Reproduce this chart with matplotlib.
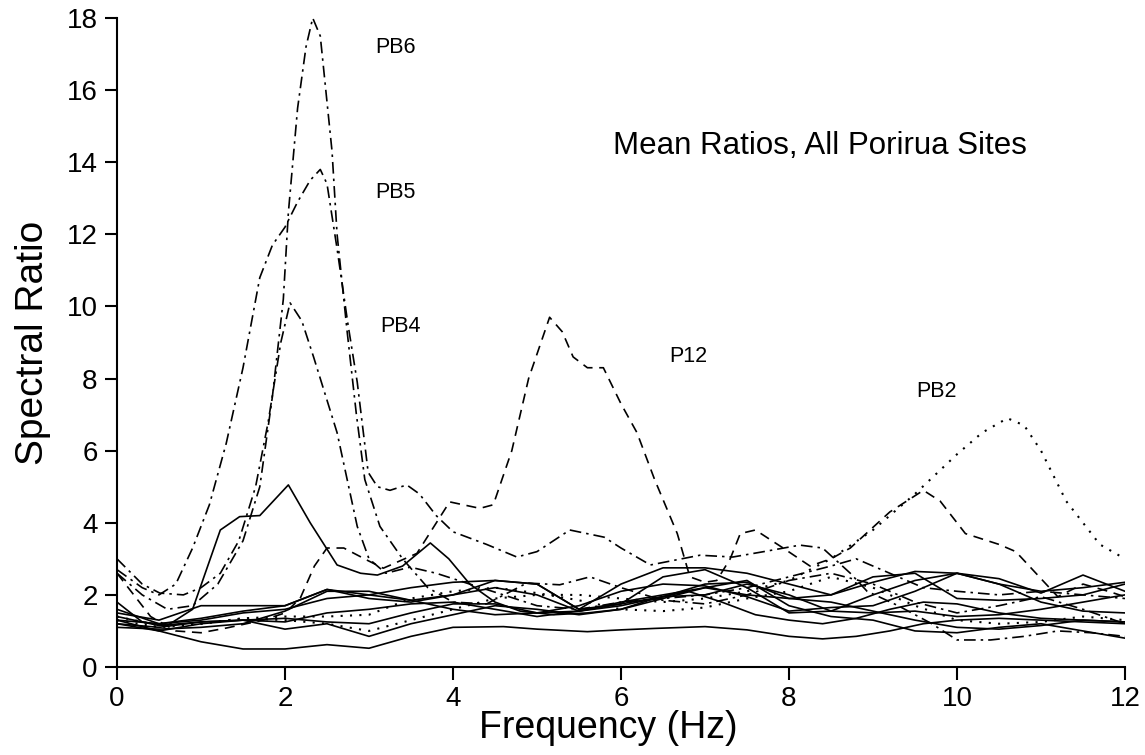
#! /usr/bin/env python3

import numpy as np
from matplotlib import pyplot as plt
import matplotlib as mpl

mpl.rcParams['font.family'] = ['Liberation Sans', 'DejaVu Sans']

# --- data: (frequency Hz, spectral ratio) ---
pb6_f = [0, 0.3, 0.6, 0.9, 1.2, 1.5, 1.7, 1.85, 1.98, 2.04, 2.15, 2.25, 2.33, 2.42, 2.56, 2.62, 2.74,
         2.85, 2.95, 3.13, 3.4, 3.7, 4.0, 4.4, 4.88, 5.27, 5.63, 6.0, 6.5, 7.0, 7.5, 8.0, 8.5, 9.0,
         9.5, 10.0, 10.5, 11.0, 11.5, 12.0]
pb6_r = [2.6, 2.0, 1.6, 1.7, 2.3, 3.5, 5.0, 7.5, 10.2, 12.6, 15.5, 17.2, 18.0, 17.5, 14.3, 12.0, 9.3,
         7.0, 5.2, 3.9, 3.0, 2.2, 1.8, 1.75, 2.33, 2.28, 2.5, 2.2, 1.85, 1.75, 2.0, 2.4, 2.6, 2.3,
         1.8, 1.5, 1.7, 1.95, 1.6, 1.2]

pb5_f = [0, 0.3, 0.5, 0.7, 0.9, 1.1, 1.3, 1.5, 1.7, 1.85, 2.0, 2.15, 2.3, 2.42, 2.5, 2.62, 2.75, 2.86,
         2.99, 3.1, 3.25, 3.45, 3.6, 3.8, 4.0, 4.4, 4.76, 5.0, 5.39, 5.8, 6.0, 6.35, 6.94, 7.33, 7.7,
         8.13, 8.4, 8.73, 8.93, 9.3, 9.7, 10.0, 10.4, 10.8, 11.2, 11.6, 12.0]
pb5_r = [2.7, 2.2, 2.0, 2.3, 3.3, 4.5, 6.2, 8.3, 10.8, 11.7, 12.2, 12.9, 13.5, 13.8, 13.4, 11.6, 9.5, 7.9,
         5.4, 5.0, 4.9, 5.05, 4.8, 4.2, 3.75, 3.4, 3.05, 3.2, 3.8, 3.6, 3.3, 2.83, 3.1, 3.05, 3.2,
         3.38, 3.3, 2.6, 2.1, 1.7, 1.2, 0.75, 0.75, 0.85, 1.0, 0.95, 0.85]

pb4_f = [0, 0.3, 0.51, 0.79, 1.0, 1.23, 1.45, 1.65, 1.8, 1.95, 2.06, 2.2, 2.34, 2.62, 2.86, 3.0, 3.2,
         3.49, 3.8, 4.2, 4.6, 5.0, 5.5, 6.0, 6.5, 7.0, 7.5, 8.0, 8.5, 8.8, 9.2, 9.6, 10.0, 10.5, 11.0,
         11.5, 12.0]
pb4_r = [3.0, 2.3, 2.05, 2.0, 2.2, 2.6, 3.5, 5.0, 6.8, 9.0, 10.1, 9.6, 8.6, 6.5, 3.9, 3.0, 2.6,
         2.77, 2.6, 2.3, 2.0, 1.7, 1.6, 1.8, 1.9, 2.0, 2.2, 2.5, 2.8, 3.0, 2.6, 2.2, 2.1, 2.0, 2.1,
         2.0, 1.9]

p12_f = [0, 0.2, 0.4, 0.7, 1.0, 1.3, 1.74, 2.0, 2.18, 2.35, 2.5, 2.7, 2.98, 3.17, 3.57, 3.96, 4.32,
         4.48, 4.7, 4.9, 5.15, 5.3, 5.43, 5.6, 5.79, 6.0, 6.19, 6.4, 6.67, 6.82, 7.0, 7.14, 7.3, 7.42,
         7.6, 7.93, 8.25, 8.5, 8.73, 9.2, 9.6, 9.8, 10.1, 10.5, 10.7, 10.9, 11.2, 11.5, 11.8, 12.0]
p12_r = [2.6, 2.0, 1.4, 1.0, 0.95, 1.08, 1.3, 1.5, 1.9, 2.8, 3.3, 3.3, 2.96, 2.74, 3.15, 4.58, 4.4,
         4.5, 6.0, 8.0, 9.7, 9.3, 8.6, 8.3, 8.3, 7.3, 6.5, 5.2, 3.7, 2.5, 2.35, 2.4, 3.0, 3.7,
         3.8, 3.3, 2.8, 3.0, 3.3, 4.3, 4.9, 4.6, 3.7, 3.4, 3.2, 2.7, 1.95, 2.3, 2.1, 1.95]

pb2_f = [0, 0.5, 1.0, 1.5, 2.0, 2.5, 3.0, 3.5, 4.0, 4.5, 5.0, 5.5, 6.0, 6.5, 7.0, 7.5, 8.0, 8.5,
         9.0, 9.5, 10.0, 10.3, 10.6, 10.8, 11.0, 11.3, 11.7, 12.0]
pb2_r = [1.3, 1.1, 1.2, 1.35, 1.3, 1.2, 1.0, 1.3, 1.6, 1.9, 2.0, 2.0, 1.9, 1.8, 1.9, 2.1, 2.4, 3.0,
         3.8, 4.8, 5.9, 6.5, 6.9, 6.7, 6.0, 4.6, 3.4, 3.0]

# second dotted site
dot2_f = [0, 0.5, 1.0, 1.5, 2.0, 2.5, 3.0, 3.5, 4.0, 4.5, 5.0, 5.5, 6.0, 6.5, 7.0, 7.5, 8.0, 8.5,
          9.0, 9.5, 10.0, 10.5, 11.0, 11.5, 12.0]
dot2_r = [1.4, 1.15, 1.2, 1.35, 1.4, 1.4, 1.45, 1.9, 2.1, 2.2, 2.05, 1.85, 1.6, 1.55, 1.65, 1.9, 2.1,
          2.5, 2.2, 1.7, 1.3, 1.2, 1.25, 1.4, 1.3]

# solid-line sites
s1_f = [0, 0.3, 0.6, 0.9, 1.23, 1.46, 1.7, 2.04, 2.3, 2.62, 2.9, 3.1, 3.4, 3.73, 3.95, 4.2, 4.5, 4.8,
        5.2, 5.6, 6.0, 6.4, 6.8, 7.2, 7.6, 8.0, 8.4, 8.8, 9.2, 9.6, 10.0, 10.5, 11.0, 11.5, 12.0]
s1_r = [1.8, 1.25, 1.15, 1.6, 3.8, 4.17, 4.2, 5.05, 4.0, 2.83, 2.6, 2.55, 2.8, 3.44, 3.0, 2.3, 1.8, 1.55,
        1.45, 1.5, 1.6, 1.9, 2.1, 1.8, 1.45, 1.3, 1.2, 1.35, 1.6, 1.8, 1.75, 1.5, 1.35, 1.3, 1.25]

s2_f = [0, 0.5, 1.0, 1.5, 2.0, 2.5, 3.0, 3.5, 4.0, 4.6, 5.0, 5.6, 6.0, 6.4, 7.0, 7.5, 8.0, 8.4, 8.8,
        9.2, 9.6, 10.0, 10.5, 11.0, 11.5, 12.0]
s2_r = [1.3, 1.0, 0.7, 0.5, 0.5, 0.62, 0.52, 0.85, 1.1, 1.12, 1.05, 0.98, 1.03, 1.07, 1.12, 1.03, 0.85,
        0.78, 0.85, 1.0, 1.2, 1.3, 1.35, 1.3, 1.25, 1.2]

s_f = [0, 0.5, 1.0, 1.5, 2.0, 2.5, 3.0, 3.5, 4.0, 4.5, 5.0, 5.5, 6.0, 6.5, 7.0, 7.5, 8.0, 8.5, 9.0,
       9.5, 10.0, 10.5, 11.0, 11.5, 12.0]
s3_r = [1.4, 1.15, 1.25, 1.3, 1.05, 1.2, 0.85, 1.2, 1.45, 1.7, 1.6, 1.45, 1.6, 1.9, 2.2, 2.4, 1.7,
        1.4, 1.3, 1.0, 0.95, 1.1, 1.2, 1.0, 0.8]
s4_r = [1.5, 1.3, 1.7, 1.7, 1.7, 2.15, 2.0, 1.85, 2.0, 2.4, 2.3, 1.6, 1.75, 2.5, 2.7, 2.2, 1.5,
        1.55, 2.0, 2.4, 2.6, 2.3, 1.8, 1.55, 1.5]
s5_r = [1.2, 1.1, 1.25, 1.3, 1.25, 1.5, 1.6, 1.75, 1.8, 1.6, 1.4, 1.55, 1.7, 1.95, 2.3, 2.35, 1.9,
        2.0, 2.5, 2.6, 1.9, 1.85, 1.9, 2.0, 2.3]
s6_r = [1.1, 1.05, 1.1, 1.2, 1.55, 2.1, 2.1, 1.85, 1.6, 1.45, 1.5, 1.7, 2.1, 2.3, 2.25, 1.95, 1.55,
        1.65, 1.7, 2.1, 2.6, 2.45, 2.05, 2.55, 2.1]
s7_r = [1.6, 1.2, 1.3, 1.5, 1.6, 1.9, 2.0, 2.2, 2.35, 2.4, 2.3, 1.6, 2.3, 2.75, 2.75, 2.6, 2.3,
        2.0, 2.35, 2.65, 2.6, 2.3, 2.1, 2.2, 2.35]
s8_r = [1.3, 1.2, 1.35, 1.55, 1.7, 2.15, 1.9, 1.8, 2.0, 2.2, 2.0, 1.55, 1.75, 1.95, 2.0, 2.3, 2.0,
        1.55, 1.5, 1.55, 1.4, 1.45, 1.6, 1.8, 2.0]
s9_r = [1.2, 1.0, 1.2, 1.3, 1.35, 1.25, 1.2, 1.5, 1.75, 1.75, 1.5, 1.55, 1.8, 2.0, 2.2, 2.0, 1.9,
        1.8, 1.55, 1.3, 1.1, 1.05, 1.15, 1.3, 1.25]

site_labels = ['PB6', 'PB5', 'PB4', 'P12', 'PB2']
label_f = [3.31, 3.32, 3.37, 6.8, 9.76]
label_r = [17.19, 13.17, 9.43, 8.62, 7.65]

fig = plt.figure(figsize=(11.45, 7.55), dpi=100)
ax = fig.add_axes([117/1145, 1 - 667/755, 1008/1145, 649/755])

dashdot = (0, (7, 3, 1.5, 3))
dashed = (0, (6, 4))
dotted = (0, (1, 3.5))
lw = 1.2

for f, r in [(s1_f, s1_r), (s2_f, s2_r)]:
    ax.plot(f, r, color='black', lw=lw)
for r in [s3_r, s4_r, s5_r, s6_r, s7_r, s8_r, s9_r]:
    ax.plot(s_f, r, color='black', lw=lw)

ax.plot(pb6_f, pb6_r, color='black', lw=lw, linestyle=dashdot)
ax.plot(pb5_f, pb5_r, color='black', lw=lw, linestyle=dashdot)
ax.plot(pb4_f, pb4_r, color='black', lw=lw, linestyle=dashdot)
ax.plot(p12_f, p12_r, color='black', lw=lw, linestyle=dashed)
ax.plot(pb2_f, pb2_r, color='black', lw=1.5, linestyle=dotted)
ax.plot(dot2_f, dot2_r, color='black', lw=1.5, linestyle=dotted)

for lab, x, y in zip(site_labels, label_f, label_r):
    ax.text(x, y, lab, fontsize=15.5, ha='center', va='center')
ax.text(8.37, 14.45, 'Mean Ratios, All Porirua Sites', fontsize=22.5, ha='center', va='center')

ax.set_xlim(0, 12)
ax.set_ylim(0, 18)
ax.set_xticks(np.arange(0, 13, 2))
ax.set_yticks(np.arange(0, 19, 2))
ax.spines['top'].set_visible(False)
ax.spines['right'].set_visible(False)
ax.spines['left'].set_linewidth(1.5)
ax.spines['bottom'].set_linewidth(1.5)
ax.tick_params(direction='out', length=9, width=1.5, labelsize=20, pad=5)

fig.text(33/1145, 1 - 343/755, 'Spectral Ratio', fontsize=28, rotation=90, ha='center', va='center')
fig.text(608/1145, 1 - 728/755, 'Frequency (Hz)', fontsize=27, ha='center', va='center')

fig.savefig('out.png', dpi=100)
